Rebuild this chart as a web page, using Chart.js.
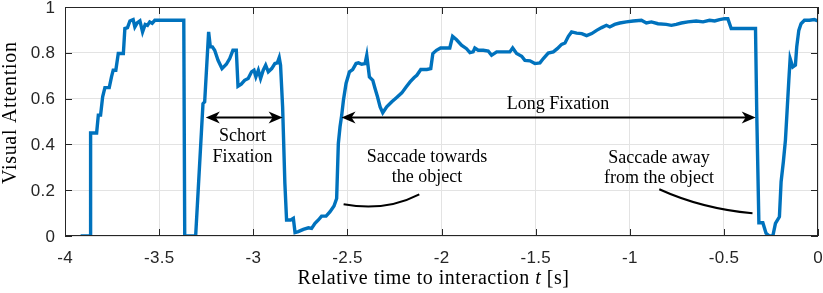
<!DOCTYPE html>
<html>
<head>
<meta charset="utf-8">
<script src="https://cdn.jsdelivr.net/npm/chart.js@4/dist/chart.umd.min.js"></script>
<style>
  html, body { margin: 0; padding: 0; background: #fff; }
  #wrap { width: 823px; height: 293px; }
</style>
</head>
<body>
<div id="wrap"><canvas id="myChart" width="823" height="293"></canvas></div>
<script>
// relative time (s) and visual attention
var times = [
  -3.917, -3.867, -3.864, -3.832, -3.823, -3.811, -3.80, -3.788, -3.765, -3.753,
  -3.744, -3.73, -3.717, -3.69, -3.682, -3.668, -3.655, -3.647, -3.638, -3.629,
  -3.617, -3.602, -3.588, -3.574, -3.562, -3.55, -3.537, -3.523, -3.369, -3.364,
  -3.306, -3.267, -3.258, -3.237, -3.228, -3.217, -3.205, -3.187, -3.166, -3.143,
  -3.125, -3.108, -3.09, -3.081, -3.064, -3.046, -3.027, -3.009, -2.996, -2.986,
  -2.973, -2.961, -2.947, -2.934, -2.92, -2.902, -2.885, -2.872, -2.862, -2.855,
  -2.844, -2.832, -2.823, -2.801, -2.787, -2.778, -2.761, -2.734, -2.707, -2.69,
  -2.672, -2.654, -2.637, -2.613, -2.592, -2.571, -2.557, -2.548, -2.539, -2.53,
  -2.521, -2.507, -2.489, -2.472, -2.454, -2.441, -2.424, -2.406, -2.397, -2.383,
  -2.365, -2.353, -2.34, -2.326, -2.312, -2.291, -2.264, -2.238, -2.211, -2.188,
  -2.167, -2.145, -2.131, -2.11, -2.078, -2.057, -2.046, -2.027, -2.005, -1.956,
  -1.941, -1.92, -1.894, -1.867, -1.849, -1.832, -1.823, -1.805, -1.778, -1.752,
  -1.734, -1.707, -1.672, -1.637, -1.622, -1.601, -1.574, -1.557, -1.53, -1.504,
  -1.477, -1.459, -1.433, -1.406, -1.385, -1.362, -1.344, -1.326, -1.309, -1.282,
  -1.255, -1.229, -1.202, -1.176, -1.149, -1.124, -1.106, -1.08, -1.053, -1.018,
  -0.982, -0.938, -0.912, -0.885, -0.85, -0.806, -0.779, -0.753, -0.726, -0.691,
  -0.647, -0.611, -0.576, -0.549, -0.523, -0.496, -0.479, -0.461, -0.435, -0.332,
  -0.325, -0.314, -0.293, -0.276, -0.258, -0.24, -0.226, -0.205, -0.196, -0.184,
  -0.173, -0.164, -0.155, -0.148, -0.134, -0.12, -0.113, -0.102, -0.09, -0.072,
  -0.046, -0.019, 0
];
var attention = [
  0, 0, 0.45, 0.45, 0.528, 0.528, 0.608, 0.648, 0.648, 0.695,
  0.724, 0.724, 0.797, 0.797, 0.906, 0.91, 0.939, 0.942, 0.945, 0.913,
  0.93, 0.939, 0.891, 0.924, 0.92, 0.935, 0.929, 0.942, 0.942, 0,
  0, 0.578, 0.586, 0.891, 0.826, 0.826, 0.811, 0.767, 0.731, 0.75,
  0.775, 0.811, 0.811, 0.654, 0.663, 0.68, 0.688, 0.717, 0.724, 0.695,
  0.724, 0.688, 0.724, 0.746, 0.717, 0.731, 0.753, 0.756, 0.779, 0.746,
  0.564, 0.23, 0.07, 0.07, 0.077, 0.015, 0.019, 0.029, 0.036, 0.033,
  0.055, 0.07, 0.087, 0.087, 0.106, 0.131, 0.164, 0.404, 0.477, 0.528,
  0.593, 0.666, 0.717, 0.727, 0.753, 0.756, 0.75, 0.753, 0.789, 0.695,
  0.68, 0.644, 0.608, 0.564, 0.538, 0.564, 0.586, 0.605, 0.625, 0.651,
  0.673, 0.692, 0.702, 0.727, 0.727, 0.731, 0.797, 0.811, 0.821, 0.821,
  0.872, 0.857, 0.833, 0.818, 0.801, 0.804, 0.821, 0.811, 0.811, 0.808,
  0.789, 0.804, 0.804, 0.804, 0.821, 0.797, 0.785, 0.767, 0.765, 0.753,
  0.756, 0.775, 0.799, 0.804, 0.818, 0.837, 0.843, 0.872, 0.891, 0.886,
  0.884, 0.875, 0.884, 0.898, 0.91, 0.92, 0.913, 0.924, 0.93, 0.935,
  0.939, 0.942, 0.93, 0.935, 0.927, 0.924, 0.92, 0.924, 0.93, 0.935,
  0.939, 0.935, 0.942, 0.939, 0.945, 0.949, 0.949, 0.906, 0.906, 0.906,
  0.52, 0.058, 0.058, 0.012, 0, 0, 0.055, 0.084, 0.237, 0.324,
  0.419, 0.549, 0.68, 0.775, 0.738, 0.746, 0.826, 0.898, 0.927, 0.942,
  0.942, 0.945, 0.939
];
var xTicks = [-4, -3.5, -3, -2.5, -2, -1.5, -1, -0.5, 0];
var yTicks = [0, 0.2, 0.4, 0.6, 0.8, 1];

// annotations in data units (text anchors are baselines)
var arrows = [
  { from: [-3.252, 0.518], to: [-2.844, 0.518] },
  { from: [-2.531, 0.518], to: [-0.331, 0.518] }
];
var notes = [
  { text: 'Schort', at: [-3.057, 0.414] },
  { text: 'Fixation', at: [-3.057, 0.322] },
  { text: 'Long Fixation', at: [-1.381, 0.556] },
  { text: 'Saccade towards', at: [-2.077, 0.322] },
  { text: 'the object', at: [-2.077, 0.234] },
  { text: 'Saccade away', at: [-0.845, 0.318] },
  { text: 'from the object', at: [-0.845, 0.231] }
];
var curves = [
  [[-2.52, 0.139], [-2.30, 0.105], [-2.118, 0.182]],
  [[-0.843, 0.204], [-0.62, 0.12], [-0.348, 0.099]]
];

var points = times.map(function(t, i) { return { x: t, y: attention[i] }; });

var serif = '"Liberation Serif", "Times New Roman", serif';
var sans = '"Liberation Sans", Arial, sans-serif';

function spacedText(ctx, text, x, y, align, spacing) {
  ctx.letterSpacing = spacing + 'px';
  var w = ctx.measureText(text).width - spacing;
  var left = align === 'center' ? x - w / 2 : (align === 'right' ? x - w : x);
  ctx.textAlign = 'left';
  ctx.fillText(text, left, y);
  ctx.letterSpacing = '0px';
}

var decor = {
  id: 'decor',
  afterDatasetsDraw: function(chart) {
    var ctx = chart.ctx, a = chart.chartArea;
    var xs = chart.scales.x, ys = chart.scales.y;
    ctx.save();
    // box and inner ticks
    ctx.strokeStyle = '#262626';
    ctx.lineWidth = 1;
    ctx.strokeRect(a.left + 0.5, a.top + 0.5, a.right - a.left - 1, a.bottom - a.top - 1);
    ctx.beginPath();
    xTicks.forEach(function(v) {
      var px = Math.round(xs.getPixelForValue(v)) + 0.5;
      ctx.moveTo(px, a.bottom); ctx.lineTo(px, a.bottom - 7);
      ctx.moveTo(px, a.top); ctx.lineTo(px, a.top + 7);
    });
    yTicks.forEach(function(v) {
      var py = Math.round(ys.getPixelForValue(v)) + 0.5;
      ctx.moveTo(a.left, py); ctx.lineTo(a.left + 7, py);
      ctx.moveTo(a.right, py); ctx.lineTo(a.right - 7, py);
    });
    ctx.stroke();

    // tick labels
    ctx.fillStyle = '#262626';
    ctx.font = '17px ' + sans;
    ctx.textBaseline = 'alphabetic';
    xTicks.forEach(function(v) {
      spacedText(ctx, String(v), xs.getPixelForValue(v), 263, 'center', 0.3);
    });
    ctx.textBaseline = 'middle';
    yTicks.forEach(function(v) {
      spacedText(ctx, String(v), 55, ys.getPixelForValue(v) + 1, 'right', 0.3);
    });

    // arrows
    ctx.strokeStyle = '#000';
    ctx.fillStyle = '#000';
    ctx.lineWidth = 2;
    arrows.forEach(function(ar) {
      var x1 = xs.getPixelForValue(ar.from[0]), y1 = ys.getPixelForValue(ar.from[1]);
      var x2 = xs.getPixelForValue(ar.to[0]), y2 = ys.getPixelForValue(ar.to[1]);
      ctx.beginPath(); ctx.moveTo(x1 + 8, y1); ctx.lineTo(x2 - 8, y2); ctx.stroke();
      [[x1, 1], [x2, -1]].forEach(function(h) {
        ctx.beginPath();
        ctx.moveTo(h[0], y1);
        ctx.lineTo(h[0] + h[1] * 14, y1 - 6);
        ctx.lineTo(h[0] + h[1] * 10, y1);
        ctx.lineTo(h[0] + h[1] * 14, y1 + 6);
        ctx.closePath();
        ctx.fill();
      });
    });

    // curves
    curves.forEach(function(c) {
      ctx.beginPath();
      ctx.moveTo(xs.getPixelForValue(c[0][0]), ys.getPixelForValue(c[0][1]));
      ctx.quadraticCurveTo(xs.getPixelForValue(c[1][0]), ys.getPixelForValue(c[1][1]),
        xs.getPixelForValue(c[2][0]), ys.getPixelForValue(c[2][1]));
      ctx.stroke();
    });

    // notes
    ctx.font = '18px ' + serif;
    ctx.textAlign = 'center';
    ctx.textBaseline = 'alphabetic';
    notes.forEach(function(n) {
      ctx.fillText(n.text, xs.getPixelForValue(n.at[0]), ys.getPixelForValue(n.at[1]));
    });

    // x axis title with italic t
    var parts = [['Relative time to interaction ', ''], ['t', 'italic '], [' [s]', '']];
    var total = 0;
    ctx.letterSpacing = '0.5px';
    parts.forEach(function(p) { ctx.font = p[1] + '20px ' + serif; total += ctx.measureText(p[0]).width; });
    var cx = (a.left + a.right) / 2 - 8 - total / 2;
    ctx.textAlign = 'left';
    parts.forEach(function(p) {
      ctx.font = p[1] + '20px ' + serif;
      ctx.fillText(p[0], cx, 284);
      cx += ctx.measureText(p[0]).width;
    });

    // y axis title
    ctx.font = '20px ' + serif;
    ctx.translate(16, 113);
    ctx.rotate(-Math.PI / 2);
    spacedText(ctx, 'Visual Attention', 0, 0, 'center', 0.7);
    ctx.restore();
  }
};

new Chart(document.getElementById('myChart').getContext('2d'), {
  type: 'line',
  data: {
    datasets: [{
      data: points,
      borderColor: '#0072BD',
      borderWidth: 3.4,
      pointRadius: 0,
      tension: 0,
      fill: false
    }]
  },
  options: {
    responsive: false,
    animation: false,
    events: [],
    layout: { padding: { top: 7, right: 5, left: 0, bottom: 0 } },
    plugins: { legend: { display: false }, tooltip: { enabled: false } },
    scales: {
      x: {
        type: 'linear',
        min: -4, max: 0,
        afterBuildTicks: function(s) { s.ticks = xTicks.map(function(v) { return { value: v }; }); },
        afterFit: function(s) { s.height = 57; s.paddingLeft = 0; s.paddingRight = 0; },
        grid: { color: '#e3e3e3', drawTicks: false, lineWidth: 1 },
        border: { display: false },
        ticks: { display: false }
      },
      y: {
        min: 0, max: 1,
        afterBuildTicks: function(s) { s.ticks = yTicks.map(function(v) { return { value: v }; }); },
        afterFit: function(s) { s.width = 65; },
        grid: { color: '#e3e3e3', drawTicks: false, lineWidth: 1 },
        border: { display: false },
        ticks: { display: false }
      }
    }
  },
  plugins: [decor]
});
</script>
</body>
</html>
